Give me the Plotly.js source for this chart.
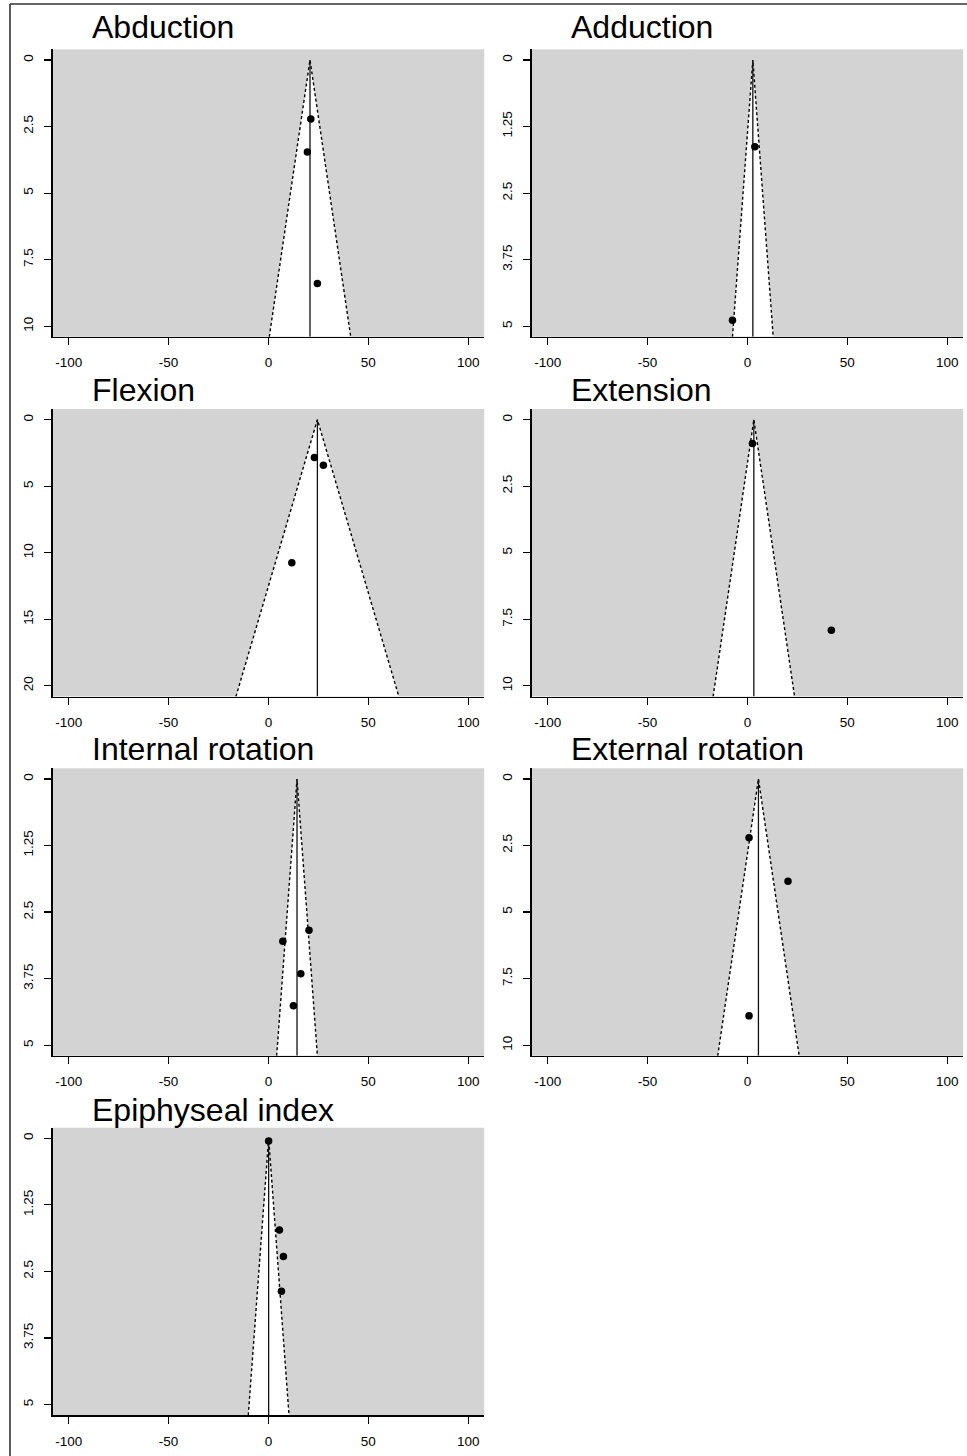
<!DOCTYPE html>
<html><head><meta charset="utf-8">
<script src="https://cdn.plot.ly/plotly-3.0.1.min.js"></script>
<style>html,body{margin:0;padding:0;background:#fff}#chart{width:967px;height:1456px}</style>
</head><body><div id="chart"></div>
<script>
// ---- data ----
const panelTitles = ["Abduction", "Adduction", "Flexion", "Extension", "Internal rotation", "External rotation", "Epiphyseal index"];
const pooledEstimates = [20.8, 2.7, 24.5, 3.2, 14.3, 5.5, 0.1];
const seAxisMax = [10, 5, 20, 10, 5, 10, 5];
const yTickLabels = [
  ["0", "2.5", "5", "7.5", "10"],
  ["0", "1.25", "2.5", "3.75", "5"],
  ["0", "5", "10", "15", "20"],
  ["0", "2.5", "5", "7.5", "10"],
  ["0", "1.25", "2.5", "3.75", "5"],
  ["0", "2.5", "5", "7.5", "10"],
  ["0", "1.25", "2.5", "3.75", "5"]
];
const studyEffects = [
  [21.2, 19.5, 24.5],
  [3.7, -7.5],
  [23.0, 27.5, 11.7],
  [2.5, 42.0],
  [20.3, 7.2, 16.2, 12.5],
  [0.8, 20.3, 0.8],
  [0.1, 5.5, 7.5, 6.5]
];
const studySE = [
  [2.22, 3.46, 8.4],
  [1.63, 4.89],
  [2.85, 3.43, 10.75],
  [0.9, 7.91],
  [2.84, 3.05, 3.66, 4.26],
  [2.21, 3.84, 8.9],
  [0.05, 1.72, 2.22, 2.87]
];
const xTickVals = [-100, -50, 0, 50, 100];
const xTickLabels = ["-100", "-50", "0", "50", "100"];
const zCrit = 1.96;

// ---- layout geometry (pixels) ----
const W = 967, H = 1456;
const colLeft = [52.7, 531.7], colWidth = 431.5;
const rowTop = [49.3, 409, 768.3, 1127.7], rowHeight = 287.5;
const titleBaseline = [39.3, 402.3, 760.7, 1122];
const titleOffset = 37;
const FONT = "Liberation Sans, Arial, Helvetica, sans-serif";

const traces = [];
const layout = {
  width: W, height: H,
  margin: {l: 0, r: 0, t: 0, b: 0},
  paper_bgcolor: "#ffffff",
  plot_bgcolor: "#d3d3d3",
  showlegend: false,
  font: {family: FONT, color: "#000", size: 13},
  annotations: [],
  shapes: [
    {type: "line", xref: "paper", yref: "paper", x0: 10 / W, x1: 1, y0: 1 - 4 / H, y1: 1 - 4 / H, line: {color: "#333", width: 1.6}},
    {type: "line", xref: "paper", yref: "paper", x0: 10 / W, x1: 10 / W, y0: 0, y1: 1 - 4 / H, line: {color: "#333", width: 1.6}}
  ]
};

panelTitles.forEach((title, i) => {
  const col = i % 2, row = Math.floor(i / 2);
  const n = i + 1;
  const xa = "x" + (n === 1 ? "" : n), ya = "y" + (n === 1 ? "" : n);
  const est = pooledEstimates[i];
  const yMax = seAxisMax[i];
  const ext = yMax * 0.04;
  const yBottom = yMax + ext;
  const halfW = zCrit * yBottom;

  // white funnel region
  traces.push({x: [est, est - halfW, est + halfW, est], y: [0, yBottom, yBottom, 0], xaxis: xa, yaxis: ya,
    mode: "lines", fill: "toself", fillcolor: "#ffffff", line: {width: 0, color: "rgba(0,0,0,0)"}, hoverinfo: "skip"});
  // dashed pseudo-confidence lines
  traces.push({x: [est - halfW, est, est + halfW], y: [yBottom, 0, yBottom], xaxis: xa, yaxis: ya,
    mode: "lines", line: {color: "#000", width: 1.4, dash: "3px,2.5px"}, hoverinfo: "skip"});
  // pooled estimate line
  traces.push({x: [est, est], y: [0, yBottom], xaxis: xa, yaxis: ya,
    mode: "lines", line: {color: "#111", width: 1.3}, hoverinfo: "skip"});
  // studies
  traces.push({x: studyEffects[i], y: studySE[i], xaxis: xa, yaxis: ya,
    mode: "markers", marker: {color: "#000", size: 7.5, symbol: "circle"}});

  const x0 = colLeft[col] / W, x1 = (colLeft[col] + colWidth) / W;
  const yTop = 1 - rowTop[row] / H, yBot = 1 - (rowTop[row] + rowHeight) / H;
  layout["xaxis" + (n === 1 ? "" : n)] = {
    domain: [x0, x1], anchor: ya, range: [-108, 108],
    tickmode: "array", tickvals: xTickVals, ticktext: xTickLabels,
    ticks: "outside", ticklen: 7, tickwidth: 1.1, tickcolor: "#000",
    showline: true, linecolor: "#000", linewidth: 1.3, showgrid: false, zeroline: false,
    tickfont: {family: FONT, size: 13.5, color: "#000"}, ticklabelstandoff: 6
  };
  layout["yaxis" + (n === 1 ? "" : n)] = {
    domain: [yBot, yTop], anchor: xa, range: [yBottom, -ext],
    tickmode: "array", tickvals: yTickLabels[i].map(Number), ticktext: yTickLabels[i],
    ticks: "outside", ticklen: 7, tickwidth: 1.1, tickcolor: "#000", tickangle: -90,
    showline: true, linecolor: "#000", linewidth: 1.3, showgrid: false, zeroline: false,
    tickfont: {family: FONT, size: 13.5, color: "#000"}, ticklabelstandoff: 6
  };
  layout.annotations.push({
    text: title, xref: "paper", yref: "paper", showarrow: false,
    x: (colLeft[col] + titleOffset) / W, xanchor: "left",
    y: 1 - (titleBaseline[row] + 7.8) / H, yanchor: "bottom",
    font: {family: FONT, size: 32, color: "#000"}
  });
});

Plotly.newPlot("chart", traces, layout, {staticPlot: true, displayModeBar: false});
</script>
</body></html>
